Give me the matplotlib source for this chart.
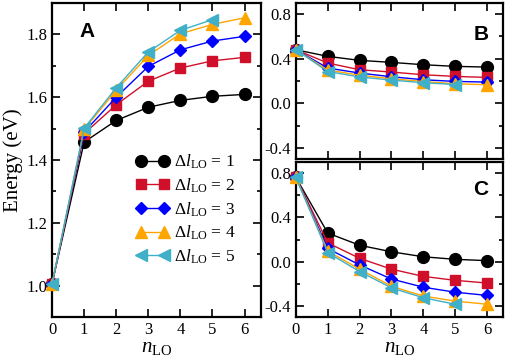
import matplotlib
matplotlib.use('Agg')
import matplotlib.pyplot as plt
from matplotlib.ticker import MultipleLocator

plt.rcParams['font.family'] = 'Liberation Serif'
plt.rcParams['mathtext.fontset'] = 'custom'
plt.rcParams['mathtext.rm'] = 'Liberation Serif'
plt.rcParams['mathtext.it'] = 'Liberation Serif:italic'

n_lo = [0, 1, 2, 3, 4, 5, 6]
n_lo5 = [0, 1, 2, 3, 4, 5]

# panel A: energies (eV)
a_dl1 = [1.005, 1.457, 1.526, 1.568, 1.590, 1.603, 1.609]
a_dl2 = [1.005, 1.484, 1.576, 1.651, 1.693, 1.716, 1.727]
a_dl3 = [1.005, 1.489, 1.600, 1.698, 1.751, 1.779, 1.794]
a_dl4 = [1.005, 1.498, 1.622, 1.733, 1.802, 1.832, 1.853]
a_dl5 = [1.005, 1.501, 1.630, 1.744, 1.813, 1.847]

# panel B
b_dl1 = [0.48, 0.421, 0.385, 0.367, 0.346, 0.331, 0.325]
b_dl2 = [0.48, 0.361, 0.301, 0.280, 0.256, 0.241, 0.232]
b_dl3 = [0.48, 0.316, 0.271, 0.238, 0.211, 0.196, 0.190]
b_dl4 = [0.48, 0.298, 0.252, 0.220, 0.195, 0.175, 0.166]
b_dl5 = [0.48, 0.285, 0.236, 0.208, 0.184, 0.168]

# panel C
c_dl1 = [0.76, 0.258, 0.148, 0.089, 0.044, 0.021, 0.009]
c_dl2 = [0.76, 0.169, 0.030, -0.068, -0.133, -0.169, -0.193]
c_dl3 = [0.76, 0.119, -0.030, -0.157, -0.231, -0.276, -0.305]
c_dl4 = [0.76, 0.095, -0.068, -0.222, -0.311, -0.356, -0.385]
c_dl5 = [0.76, 0.080, -0.089, -0.237, -0.326, -0.385]

labels = [r'$\Delta l_{\rm LO}$ = %d' % k for k in range(1, 6)]
colors = ['black', '#d0102a', '#0000ff', '#ffa500', '#40b0c8']
markers = ['o', 's', 'D', '^', '<']
msizes = [8.5, 7.0, 6.5, 8.0, 8.5]

fig = plt.figure(figsize=(5.05, 3.58), dpi=100)
axA = fig.add_axes([0.103, 0.1145, 0.413, 0.877])
axB = fig.add_axes([0.586, 0.556, 0.41, 0.4356])
axC = fig.add_axes([0.586, 0.1145, 0.41, 0.433])

panels = [
    (axA, [a_dl1, a_dl2, a_dl3, a_dl4, a_dl5]),
    (axB, [b_dl1, b_dl2, b_dl3, b_dl4, b_dl5]),
    (axC, [c_dl1, c_dl2, c_dl3, c_dl4, c_dl5]),
]

for ax, series in panels:
    for i, ys in enumerate(series):
        xs = n_lo if len(ys) == 7 else n_lo5
        ax.plot(xs, ys, color=colors[i], marker=markers[i], ms=msizes[i],
                lw=1.0, mec=colors[i], label=labels[i], clip_on=False, zorder=3 + i)
    ax.set_xlim(0, 6.5)
    ax.xaxis.set_major_locator(MultipleLocator(1))
    ax.tick_params(direction='in', which='both', top=True, right=True,
                   labelsize=12, length=6, width=1.2)
    ax.tick_params(which='minor', length=3)
    for sp in ax.spines.values():
        sp.set_linewidth(1.6)

axA.set_ylim(0.9, 1.9)
axA.yaxis.set_major_locator(MultipleLocator(0.2))
axA.yaxis.set_minor_locator(MultipleLocator(0.1))
axA.yaxis.set_major_formatter(matplotlib.ticker.FormatStrFormatter('%.1f'))
axA.set_ylabel('Energy (eV)', fontsize=15, labelpad=2)
axA.set_xlabel(r'$n_{\rm LO}$', fontsize=15, labelpad=0)

for ax in (axB, axC):
    ax.set_ylim(-0.5, 0.9)
    ax.yaxis.set_major_locator(MultipleLocator(0.4))
    ax.yaxis.set_minor_locator(MultipleLocator(0.2))
    ax.yaxis.set_major_formatter(matplotlib.ticker.FormatStrFormatter('%.1f'))
axB.tick_params(labelbottom=False)
axC.set_xlabel(r'$n_{\rm LO}$', fontsize=15, labelpad=0)

axA.text(0.13, 0.91, 'A', transform=axA.transAxes, fontsize=15,
         fontweight='bold', family='Liberation Sans', ha='left', va='center')
axB.text(0.93, 0.80, 'B', transform=axB.transAxes, fontsize=15,
         fontweight='bold', family='Liberation Sans', ha='right', va='center')
axC.text(0.93, 0.82, 'C', transform=axC.transAxes, fontsize=15,
         fontweight='bold', family='Liberation Sans', ha='right', va='center')

axA.legend(loc='lower right', bbox_to_anchor=(0.93, 0.13), numpoints=2,
           frameon=False, fontsize=12.5, handlelength=1.9, handletextpad=0.3,
           labelspacing=0.3, borderaxespad=0.2)

fig.savefig('out.png', dpi=100)
